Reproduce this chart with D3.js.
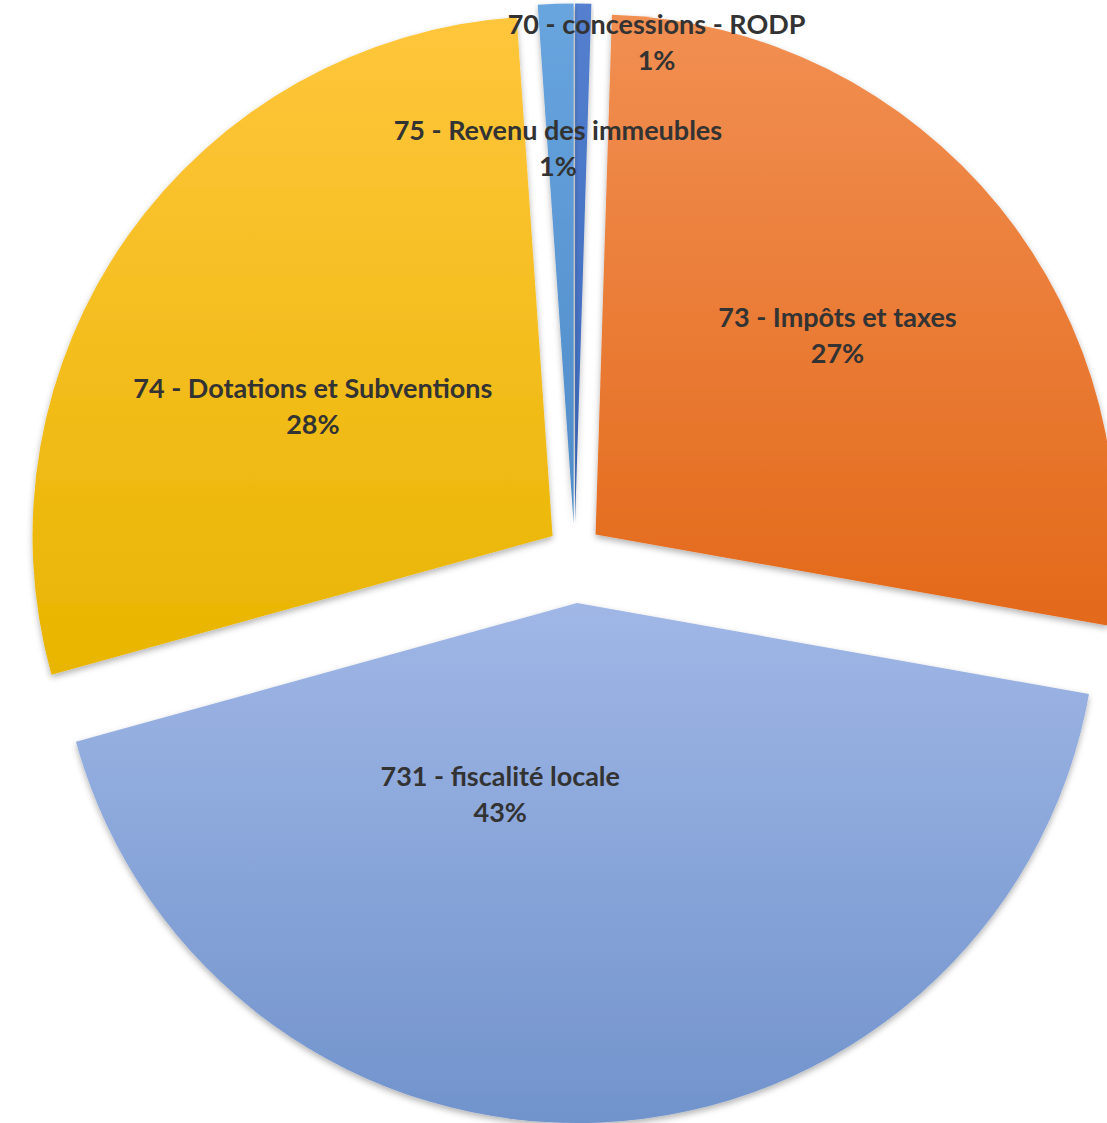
<!DOCTYPE html>
<html>
<head>
<meta charset="utf-8">
<script src="https://cdn.jsdelivr.net/npm/d3@7"></script>
<style>
  html, body { margin: 0; padding: 0; background: #ffffff; }
  svg { display: block; }
</style>
</head>
<body>
<svg id="chart" width="1107" height="1123"></svg>
<script>
// ---- data ----
const categories = [
  "70 - concessions - RODP",
  "73 - Impôts et taxes",
  "731 - fiscalité locale",
  "74 - Dotations et Subventions",
  "75 - Revenu des immeubles"
];
const values = [0.5, 27.3, 42.9, 28.2, 1.1];
const percentLabels = ["1%", "27%", "43%", "28%", "1%"];

// ---- styles / layout ----
const gradTop    = ["#5480CF", "#F18F52", "#A0B7E6", "#FFC63C", "#68A5DF"];
const gradBottom = ["#3B67B9", "#E3691A", "#7193CC", "#E8B500", "#4E8BC8"];
const explode = [28, 27, 51.6, 27, 28];
// label anchor relative to each slice apex: [angle in degrees clockwise from 12 o'clock, distance]
const labelPolar = [[9.6, 489], [50.4, 314], [202, 205], [298.6, 273], [357.6, 376]];

const W = 1107, H = 1123;
const cx = 574.6, cy = 551.5, R = 520;

const svg = d3.select("#chart");
const defs = svg.append("defs");

categories.forEach((c, i) => {
  const g = defs.append("linearGradient")
    .attr("id", "grad" + i)
    .attr("x1", 0).attr("y1", 0).attr("x2", 0).attr("y2", 1);
  g.append("stop").attr("offset", "0%").attr("stop-color", gradTop[i]);
  g.append("stop").attr("offset", "100%").attr("stop-color", gradBottom[i]);
});

const f = defs.append("filter").attr("id", "shadow")
  .attr("x", "-10%").attr("y", "-10%").attr("width", "120%").attr("height", "120%");
f.append("feDropShadow")
  .attr("dx", 0).attr("dy", 3).attr("stdDeviation", 3)
  .attr("flood-color", "#000").attr("flood-opacity", 0.3);

const pie = d3.pie().sort(null).value(d => d).startAngle(0).endAngle(2 * Math.PI);
const arcs = pie(values);
const arc = d3.arc().innerRadius(0).outerRadius(R);

const root = svg.append("g").attr("transform", `translate(${cx},${cy})`);

function apex(d, i) {
  const mid = (d.startAngle + d.endAngle) / 2;
  return [Math.sin(mid) * explode[i], -Math.cos(mid) * explode[i]];
}

root.selectAll("path.slice")
  .data(arcs)
  .join("path")
  .attr("class", "slice")
  .attr("d", arc)
  .attr("transform", (d, i) => { const p = apex(d, i); return `translate(${p[0]},${p[1]})`; })
  .attr("fill", (d, i) => `url(#grad${i})`)
  .attr("filter", "url(#shadow)");

const labels = root.selectAll("g.lbl")
  .data(arcs)
  .join("g")
  .attr("class", "lbl")
  .attr("transform", (d, i) => {
    const p = apex(d, i);
    const a = labelPolar[i][0] * Math.PI / 180, r = labelPolar[i][1];
    return `translate(${p[0] + Math.sin(a) * r},${p[1] - Math.cos(a) * r})`;
  });

function styleText(sel) {
  sel.attr("text-anchor", "middle")
    .attr("dominant-baseline", "central")
    .style("font-family", "Lato, 'Open Sans', sans-serif")
    .style("font-weight", "bold")
    .style("font-size", "27px")
    .style("fill", "#333333");
}

labels.append("text")
  .attr("y", -18)
  .call(styleText)
  .text((d, i) => categories[i]);

labels.append("text")
  .attr("y", 18)
  .call(styleText)
  .text((d, i) => percentLabels[i]);
</script>
</body>
</html>
